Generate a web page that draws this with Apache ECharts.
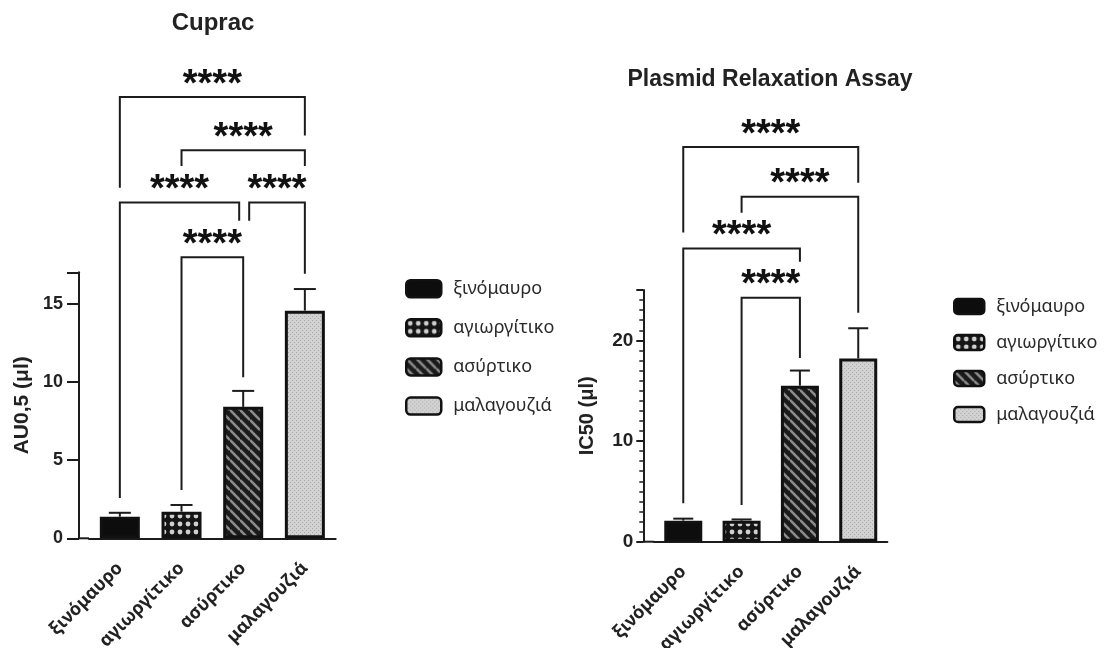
<!DOCTYPE html>
<html>
<head>
<meta charset="utf-8">
<script src="https://cdn.jsdelivr.net/npm/echarts@6/dist/echarts.min.js"></script>
<style>
  html, body { margin: 0; padding: 0; background: #fff; }
  #chart { width: 1105px; height: 648px; }
</style>
</head>
<body>
<div id="chart"></div>
<script>
// categories (wine varieties)
var cultivars = ['ξινόμαυρο', 'αγιωργίτικο', 'ασύρτικο', 'μαλαγουζιά'];

// Cuprac: mean and SD
var cupracMean = [1.38, 1.7, 8.4, 14.55];
var cupracSd = [0.25, 0.43, 1.02, 1.38];
var cupracTicks = [0, 5, 10, 15];

// Plasmid relaxation: IC50 mean and SD
var plasmidMean = [2.09, 2.09, 15.5, 18.2];
var plasmidSd = [0.2, 0.12, 1.5, 3.0];
var plasmidTicks = [0, 10, 20];

// significance brackets: [from, to, level, foot at from, foot at to]
var cupracBrackets = [
  [0, 3, 28.2, 22.4, 25.75],
  [1, 3, 24.8, 23.8, 23.8],
  [0, 2, 21.46, 2.58, 20.3],
  [2, 3, 21.46, 20.3, 16.9],
  [1, 2, 17.96, 3.08, 10.3]
];
var plasmidBrackets = [
  [0, 3, 39.2, 30.7, 35.66],
  [1, 3, 34.27, 32.68, 22.73],
  [0, 2, 29.12, 3.82, 27.8],
  [1, 2, 24.22, 3.65, 18.25]
];
var sigLabel = '****';

// fill patterns
function makePattern(w, h, draw) {
  var c = document.createElement('canvas');
  c.width = w; c.height = h;
  draw(c.getContext('2d'), w, h);
  return { image: c, repeat: 'repeat' };
}
var fills = [
  '#0d0d0d',
  makePattern(8, 8, function (g, w, h) {
    g.fillStyle = '#151515'; g.fillRect(0, 0, w, h);
    g.fillStyle = '#d0d0d0';
    g.beginPath(); g.arc(4, 4, 2.4, 0, Math.PI * 2); g.fill();
  }),
  makePattern(10, 10, function (g, w, h) {
    g.fillStyle = '#1b1b1b'; g.fillRect(0, 0, w, h);
    g.strokeStyle = '#8c8c8c'; g.lineWidth = 2.6;
    [-w, 0, w].forEach(function (k) {
      g.beginPath(); g.moveTo(0, k); g.lineTo(w, w + k); g.stroke();
    });
  }),
  makePattern(4, 4, function (g, w, h) {
    g.fillStyle = '#d2d2d2'; g.fillRect(0, 0, w, h);
    g.fillStyle = '#a9a9a9';
    g.fillRect(0, 0, 1, 1); g.fillRect(2, 2, 1, 1);
  })
];

var chart = echarts.init(document.getElementById('chart'));

var panels = [
  { left: 89, top: 272.3, width: 246.7, height: 266, yOffset: 10, max: 17, interval: 5, minor: false,
    tickLen: 12, labelSize: 18, labelMargin: 16,
    name: 'AU0,5 (μl)', nameSize: 21, nameGap: 46, mean: cupracMean, sd: cupracSd, barWidth: 40, cap: 11,
    brackets: cupracBrackets, nudge: [[0, 0], [0, 0], [0, -4], [6, 0], [0, 0]] },
  { left: 654.1, top: 290, width: 233.3, height: 251.7, yOffset: 10.8, max: 25, interval: 10, minor: true,
    tickLen: 7, labelSize: 19, labelMargin: 10,
    name: 'IC50 (μl)', nameSize: 20, nameGap: 46, mean: plasmidMean, sd: plasmidSd, barWidth: 38, cap: 10,
    brackets: plasmidBrackets, nudge: [[0, 0], [0, 0], [0, 0], [0, 0]] }
];

var axisColor = '#1c1c1c';
var grids = [], xAxes = [], yAxes = [], series = [], graphics = [];

panels.forEach(function (p, gi) {
  grids.push({ left: p.left, top: p.top, width: p.width, height: p.height,
               containLabel: false, outerBoundsMode: 'none' });
  xAxes.push({
    type: 'category', gridIndex: gi, data: cultivars,
    axisLine: { lineStyle: { color: axisColor, width: 2 } },
    axisTick: { alignWithLabel: true, length: 11, lineStyle: { color: axisColor, width: 2 } },
    axisLabel: { rotate: 45, margin: 27, color: '#222', fontFamily: 'Noto Sans', fontSize: 18, fontWeight: 'bold' }
  });
  yAxes.push({
    type: 'value', gridIndex: gi, min: 0, max: p.max, interval: p.interval, offset: p.yOffset,
    name: p.name, nameLocation: 'middle', nameGap: p.nameGap, nameMoveOverlap: false,
    nameTextStyle: { color: '#222', fontFamily: 'Liberation Sans', fontSize: p.nameSize, fontWeight: 'bold' },
    axisLine: { show: true, lineStyle: { color: axisColor, width: 2 } },
    axisTick: { show: true, length: p.tickLen, lineStyle: { color: axisColor, width: 2 } },
    minorTick: { show: p.minor, splitNumber: 10, length: 4, lineStyle: { color: axisColor, width: 1.5 } },
    splitLine: { show: false },
    axisLabel: {
      margin: p.labelMargin, color: '#222', fontFamily: 'Liberation Sans', fontSize: p.labelSize, fontWeight: 'bold',
      formatter: function (v) {
        var ticks = gi === 0 ? cupracTicks : plasmidTicks;
        return ticks.indexOf(v) >= 0 ? String(v) : '';
      }
    }
  });

  // one series per cultivar so that the legend shows each fill
  cultivars.forEach(function (name, ci) {
    series.push({
      type: 'bar', name: name, xAxisIndex: gi, yAxisIndex: gi,
      barWidth: p.barWidth, barGap: '-100%',
      data: p.mean.map(function (v, k) { return k === ci ? v : '-'; }),
      itemStyle: { color: fills[ci], borderColor: '#111', borderWidth: 3 },
      emphasis: { disabled: true }
    });
  });

  // upper error whiskers
  series.push({
    type: 'custom', xAxisIndex: gi, yAxisIndex: gi, z: 3, silent: true,
    encode: { x: 0, y: 1 },
    data: p.mean.map(function (v, k) { return [k, v, p.sd[k]]; }),
    renderItem: function (params, api) {
      var base = api.coord([api.value(0), api.value(1)]);
      var top = api.coord([api.value(0), api.value(1) + api.value(2)]);
      var st = { stroke: axisColor, lineWidth: 2 };
      return { type: 'group', children: [
        { type: 'line', shape: { x1: base[0], y1: base[1], x2: top[0], y2: top[1] }, style: st },
        { type: 'line', shape: { x1: top[0] - p.cap, y1: top[1], x2: top[0] + p.cap, y2: top[1] }, style: st }
      ] };
    }
  });

  // significance brackets
  series.push({
    type: 'custom', xAxisIndex: gi, yAxisIndex: gi, z: 4, silent: true, clip: false,
    encode: { x: 0, y: 2 },
    data: p.brackets,
    renderItem: function (params, api) {
      var nd = p.nudge[params.dataIndex];
      var a = api.coord([api.value(0), api.value(2)]);
      var b = api.coord([api.value(1), api.value(2)]);
      var fa = api.coord([api.value(0), api.value(3)]);
      var fb = api.coord([api.value(1), api.value(4)]);
      var x1 = a[0] + nd[0], x2 = b[0] + nd[1];
      return { type: 'group', children: [
        { type: 'polyline', shape: { points: [[x1, fa[1]], [x1, a[1]], [x2, a[1]], [x2, fb[1]]] },
          style: { stroke: axisColor, lineWidth: 2, fill: null } },
        { type: 'text', x: (x1 + x2) / 2, y: a[1] + 7,
          style: { text: sigLabel, fill: '#111', font: 'bold 38px "Liberation Sans"',
                   align: 'center', verticalAlign: 'bottom', textAlign: 'center', textVerticalAlign: 'bottom' } }
      ] };
    }
  });

  // bottom axis line continues back to the offset y axis
  graphics.push({
    type: 'line', silent: true,
    shape: { x1: p.left - p.yOffset, y1: p.top + p.height, x2: p.left, y2: p.top + p.height },
    style: { stroke: axisColor, lineWidth: 2 }
  });
});

graphics.push(
  { type: 'text', x: 213, y: 23, style: { text: 'Cuprac', fill: '#222', font: 'bold 24px "Liberation Sans"',
    align: 'center', verticalAlign: 'middle', textAlign: 'center', textVerticalAlign: 'middle' } },
  { type: 'text', x: 770, y: 80, style: { text: 'Plasmid Relaxation Assay', fill: '#222', font: 'bold 23px "Liberation Sans"',
    align: 'center', verticalAlign: 'middle', textAlign: 'center', textVerticalAlign: 'middle' } }
);

function legendText(h) {
  return { color: '#2a2a2a', fontFamily: 'Noto Sans', fontSize: 18, lineHeight: h, padding: [0, 0, 0, 7] };
}

chart.setOption({
  animation: false,
  grid: grids,
  xAxis: xAxes,
  yAxis: yAxes,
  series: series,
  graphic: graphics,
  legend: [
    { data: cultivars, orient: 'vertical', left: 405, top: 279, padding: 0, itemWidth: 35, itemHeight: 17, itemGap: 19.6,
      icon: 'roundRect', selectedMode: false, itemStyle: { borderWidth: 2.5 }, textStyle: legendText(17) },
    { data: cultivars, orient: 'vertical', left: 953, top: 297.5, padding: 0, itemWidth: 30, itemHeight: 15, itemGap: 18,
      icon: 'roundRect', selectedMode: false, itemStyle: { borderWidth: 2.5 }, textStyle: legendText(15) }
  ]
});

window.addEventListener('resize', function () { chart.resize(); });
</script>
</body>
</html>
